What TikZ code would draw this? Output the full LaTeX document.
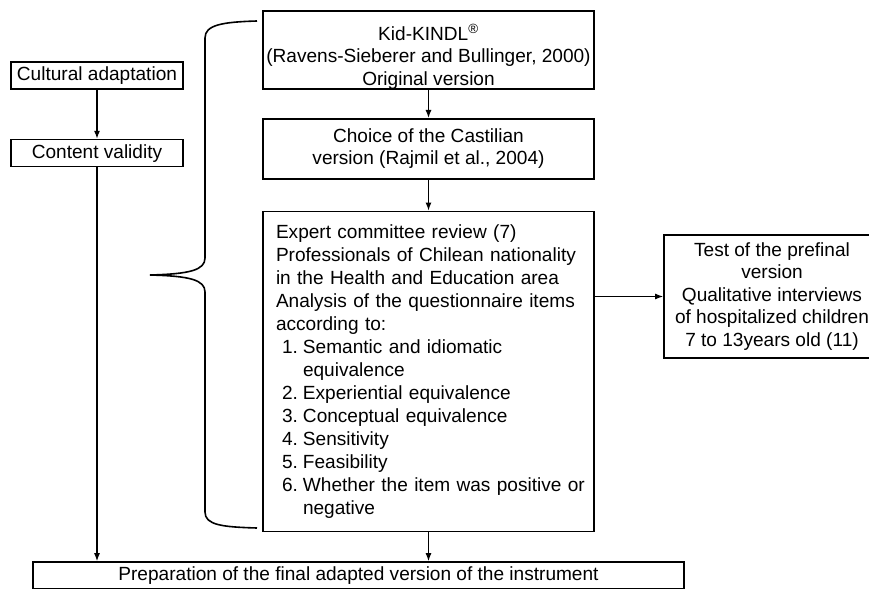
\documentclass[tikz,border=0pt]{standalone}
\usepackage{fontspec}
\setmainfont{Liberation Sans}
\usetikzlibrary{arrows.meta,positioning}

\begin{document}
\begin{tikzpicture}[
        x=0.75pt, y=-0.75pt,
        font=\fontsize{14.3}{16.9}\selectfont,
        box/.style={rectangle, draw=black, line width=1.2pt, inner sep=0pt, align=center},
        smallbox/.style={box, minimum width=129pt, minimum height=20.25pt},
        stepbox/.style={box, minimum width=248.25pt},
        arrow/.style={draw, -{Latex[length=6pt,width=4.5pt]}, line width=0.9pt}
    ]
        \useasboundingbox (0,0) rectangle (869,589);
        % left column
        \node[smallbox] (cult) at (97,75.5) {Cultural adaptation};
        \node[smallbox, below=36.75pt of cult] (valid) {Content validity};
        % middle column
        \node[stepbox, minimum height=58.5pt] (kid) at (428.5,50)
            {\rule{0pt}{22pt}Kid-KINDL\textsuperscript{\textregistered}\\(Ravens-Sieberer and Bullinger, 2000)\\Original version};
        \node[stepbox, minimum height=45pt, below=21pt of kid] (choice)
            {Choice of the Castilian\\version (Rajmil et al., 2004)};
        \node[stepbox, minimum height=240pt, below=23.25pt of choice, inner xsep=9.75pt,
              text width=228.75pt, align=left, font=\fontsize{14.3}{17.25}\selectfont] (expert)
            {Expert committee review (7)\\
             Professionals of Chilean nationality\\
             in the Health and Education area\\
             Analysis of the questionnaire items\\
             according to:\\
             \hspace*{4.5pt}\makebox[15.75pt][l]{1.}Semantic and idiomatic\\
             \hspace*{20.25pt}equivalence\\
             \hspace*{4.5pt}\makebox[15.75pt][l]{2.}Experiential equivalence\\
             \hspace*{4.5pt}\makebox[15.75pt][l]{3.}Conceptual equivalence\\
             \hspace*{4.5pt}\makebox[15.75pt][l]{4.}Sensitivity\\
             \hspace*{4.5pt}\makebox[15.75pt][l]{5.}Feasibility\\
             \mbox{\hspace*{4.5pt}\makebox[15.75pt][l]{6.}Whether the item was positive or}\\
             \hspace*{20.25pt}negative};
        \node[box, minimum width=162pt, minimum height=92.25pt] (test) at (772,296.5)
            {Test of the prefinal\\version\\Qualitative interviews\\of hospitalized children\\7 to 13years old (11)};
        % bottom
        \node[box, minimum width=488.25pt, minimum height=20.25pt] (final) at (358.5,575.5)
            {Preparation of the final adapted version of the instrument};
        % brace
        \draw[line width=1.2pt] (257,21) .. controls (222,22) and (205,25) .. (205,38)
            -- (205,258) .. controls (205,270) and (190,274) .. (150,275)
            .. controls (190,276) and (205,280) .. (205,292)
            -- (205,512) .. controls (205,525) and (222,527) .. (257,528);
        \path[arrow] (cult)   -- (valid);
        \path[arrow] (valid)  -- (valid |- final.north);
        \path[arrow] (kid)    -- (choice);
        \path[arrow] (choice) -- (expert);
        \path[arrow] (expert) -- (expert |- final.north);
        \path[arrow] (test.west -| expert.east) -- (test);
    \end{tikzpicture}
\end{document}
